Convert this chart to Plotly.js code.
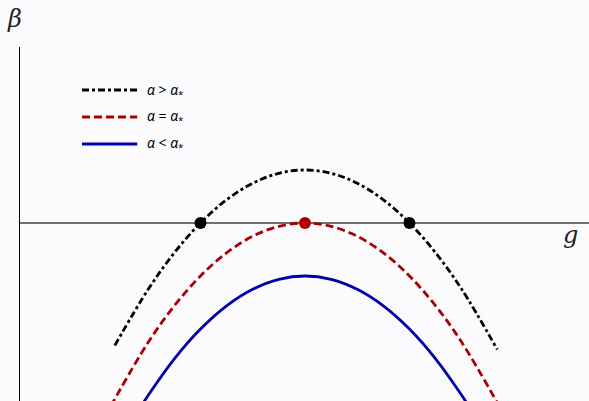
<!DOCTYPE html>
<html>
<head>
<meta charset="utf-8">
<script src="https://cdn.plot.ly/plotly-3.0.1.min.js"></script>
<style>
  html, body { margin: 0; padding: 0; background: #fbfbfd; }
  #chart { width: 589px; height: 401px; }
</style>
</head>
<body>
<div id="chart"></div>
<script>
// Growth-rate curves beta(g) for three values of alpha
const gAbove = [-1.82, -1.5, -1.25, -1, -0.75, -0.5, -0.25, 0, 0.25, 0.5, 0.75, 1, 1.25, 1.5, 1.84];
const betaAbove = [-1.156, -0.625, -0.281, 0, 0.219, 0.375, 0.469, 0.5, 0.469, 0.375, 0.219, 0, -0.281, -0.625, -1.193];

const gCrit = [-1.86, -1.5, -1.25, -1, -0.75, -0.5, -0.25, 0, 0.25, 0.5, 0.75, 1, 1.25, 1.5, 1.86];
const betaCrit = [-1.73, -1.125, -0.781, -0.5, -0.281, -0.125, -0.031, 0, -0.031, -0.125, -0.281, -0.5, -0.781, -1.125, -1.73];

const gBelow = [-1.6, -1.5, -1.25, -1, -0.75, -0.5, -0.25, 0, 0.25, 0.5, 0.75, 1, 1.25, 1.5, 1.6];
const betaBelow = [-1.78, -1.625, -1.281, -1, -0.781, -0.625, -0.531, -0.5, -0.531, -0.625, -0.781, -1, -1.281, -1.625, -1.78];

// Marginal points where beta = 0
const gRootsAbove = [-1, 1];
const betaRootsAbove = [0, 0];
const gRootCrit = [0];
const betaRootCrit = [0];

const labels = ['<i>α</i> > <i>α</i><sub>*</sub>', '<i>α</i> = <i>α</i><sub>*</sub>', '<i>α</i> < <i>α</i><sub>*</sub>'];
const colors = ['#000000', '#aa0000', '#0000aa'];
const dashes = ['7px,3px,3px,3px', '8px,4px', 'solid'];

const lineW = 2.8;

const traces = [
  { x: gAbove, y: betaAbove, mode: 'lines', line: { color: colors[0], width: lineW, dash: dashes[0], shape: 'spline' } },
  { x: gCrit, y: betaCrit, mode: 'lines', line: { color: colors[1], width: lineW, dash: dashes[1], shape: 'spline' } },
  { x: gBelow, y: betaBelow, mode: 'lines', line: { color: colors[2], width: lineW, dash: dashes[2], shape: 'spline' } },
  { x: gRootsAbove, y: betaRootsAbove, mode: 'markers', marker: { color: colors[0], size: 12 }, cliponaxis: false },
  { x: gRootCrit, y: betaRootCrit, mode: 'markers', marker: { color: colors[1], size: 12 }, cliponaxis: false }
];

// Hand-drawn legend in paper coordinates
const legendY = [0.8785, 0.8023, 0.726];
const shapes = [];
const annotations = [];
labels.forEach((lab, i) => {
  shapes.push({
    type: 'line', xref: 'paper', yref: 'paper',
    x0: 0.109, x1: 0.206, y0: legendY[i], y1: legendY[i],
    line: { color: colors[i], width: lineW, dash: dashes[i] }
  });
  annotations.push({
    xref: 'paper', yref: 'paper', x: 0.219, y: legendY[i],
    xanchor: 'left', yanchor: 'middle', showarrow: false,
    text: lab, font: { family: 'Noto Sans', size: 14, color: '#000' }
  });
});
annotations.push({
  xref: 'paper', yref: 'paper', x: -0.009, y: 1.078,
  xanchor: 'center', yanchor: 'middle', showarrow: false,
  text: '<i>β</i>', font: { family: 'DejaVu Serif', size: 24, color: '#222' }
});
annotations.push({
  xref: 'paper', yref: 'paper', x: 0.968, y: 0.468,
  xanchor: 'center', yanchor: 'middle', showarrow: false,
  text: '<i>g</i>', font: { family: 'DejaVu Serif', size: 24, color: '#222' }
});

const layout = {
  width: 589, height: 401,
  margin: { l: 20, r: 0, t: 47, b: 0, pad: 0 },
  paper_bgcolor: '#fbfbfd', plot_bgcolor: '#fbfbfd',
  showlegend: false,
  xaxis: {
    range: [-2.727, 2.718], showgrid: false, zeroline: false,
    showticklabels: false, ticks: '', showline: false
  },
  yaxis: {
    range: [-1.679, 1.660], showgrid: false,
    zeroline: true, zerolinecolor: '#707070', zerolinewidth: 1.5,
    showticklabels: false, ticks: '',
    showline: true, linecolor: '#000000', linewidth: 1.5
  },
  shapes: shapes,
  annotations: annotations
};

Plotly.newPlot('chart', traces, layout, { displayModeBar: false, staticPlot: true });
</script>
</body>
</html>
